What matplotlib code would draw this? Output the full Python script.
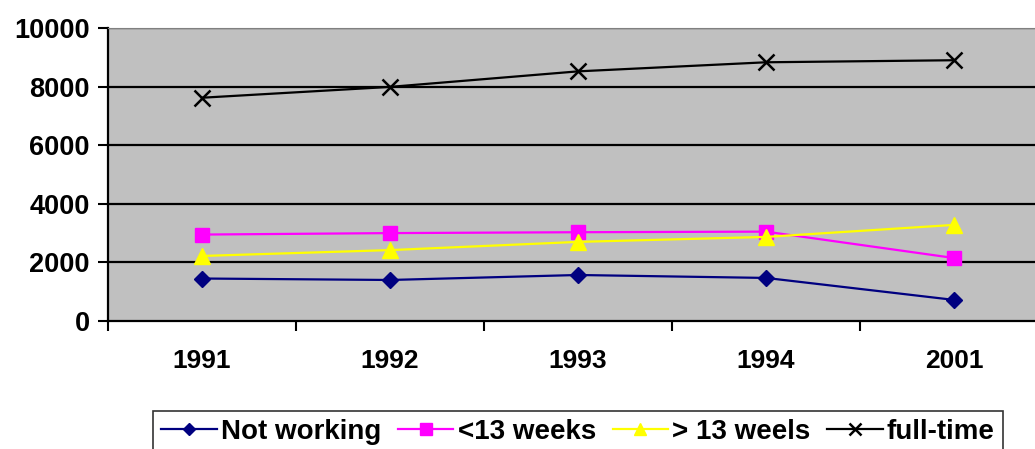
import matplotlib.pyplot as plt
import numpy as np

plt.rcParams['font.family'] = ['Liberation Sans', 'DejaVu Sans']
plt.rcParams['font.weight'] = 'bold'

years = ['1991', '1992', '1993', '1994', '2001']
not_working = [1450, 1400, 1570, 1470, 720]
under_13 = [2950, 3000, 3030, 3050, 2150]
over_13 = [2220, 2420, 2700, 2870, 3280]
full_time = [7620, 7990, 8520, 8830, 8900]

fig = plt.figure(figsize=(10.35, 4.49), dpi=100)
ax = fig.add_axes([108/1035, 128/449, 927/1035, 293/449])
ax.set_facecolor('#c0c0c0')

x = np.arange(len(years))
ax.plot(x, not_working, color='#000080', marker='D', markersize=8, lw=1.6, label='Not working')
ax.plot(x, under_13, color='#ff00ff', marker='s', markersize=10, lw=1.6, label='<13 weeks')
ax.plot(x, over_13, color='#ffff00', marker='^', markersize=11, lw=1.6, label='> 13 weels')
ax.plot(x, full_time, color='black', marker='x', markersize=11, mew=1.8, lw=1.6, label='full-time')

ax.set_yticks(np.arange(0, 10001, 2000))
ax.set_xticks(x)
ax.set_xticklabels(years)
ax.set_xticks(np.arange(-0.5, 4.6, 1), minor=True)
ax.set_ylim(0, 10000)
ax.set_xlim(-0.5, 4.5 - 13/188)
ax.tick_params(axis='x', which='major', length=0, pad=20, labelsize=19)
ax.tick_params(axis='x', which='minor', length=7, width=1.5, direction='out')
ax.tick_params(axis='y', length=7, width=1.5, labelsize=19.5, pad=6)

for v in range(2000, 10001, 2000):
    ax.axhline(v, color='black', lw=1.6, zorder=1)
ax.spines['top'].set_color('#808080')
ax.spines['right'].set_visible(False)
ax.spines['left'].set_linewidth(1.6)
ax.spines['bottom'].set_linewidth(1.6)

leg = fig.legend(loc='center', bbox_to_anchor=(578/1035, 1 - 432/449), ncol=4,
                 fontsize=20, frameon=True, fancybox=False, edgecolor='black',
                 handlelength=2.0, handletextpad=0.15, columnspacing=0.6, borderpad=0.3,
                 markerscale=0.8)
leg.get_frame().set_linewidth(1.2)

fig.savefig('out.png', dpi=100)
